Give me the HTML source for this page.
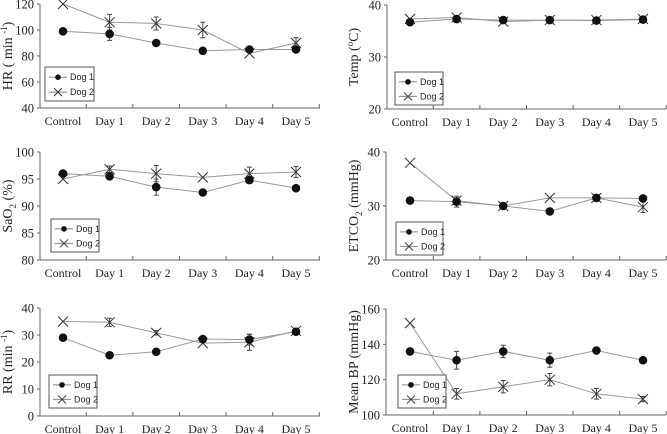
<!DOCTYPE html>
<html><head><meta charset="utf-8"><style>
html,body{margin:0;padding:0;background:#fff;}
svg{display:block;}
text{font-family:"Liberation Serif",serif;fill:#222;}
.lg{font-family:"Liberation Sans",sans-serif;font-size:9px;}
</style></head><body>
<svg id="chart" width="667" height="434" viewBox="0 0 667 434" xmlns="http://www.w3.org/2000/svg"></svg>
<script>
const categories = ["Control","Day 1","Day 2","Day 3","Day 4","Day 5"];
const hrDog1 = [99,97,90,84,85,85];
const hrDog2 = [120,106,105,100,82,90];
const hrErr1 = [0,5,0,0,0,0];
const hrErr2 = [0,6,5,6,0,4];
const hrTicks = [40,60,80,100,120];
const tempDog1 = [36.7,37.3,37.1,37.1,37.0,37.2];
const tempDog2 = [37.3,37.6,36.8,37.1,37.1,37.3];
const tempTicks = [20,30,40];
const saDog1 = [96,95.5,93.5,92.5,94.8,93.3];
const saDog2 = [95,96.8,96,95.3,96,96.3];
const saErr1 = [0,0,1.5,0,0.6,0];
const saErr2 = [0,0.6,1.5,0,1.2,1];
const saTicks = [80,85,90,95,100];
const etDog1 = [31,30.8,30,29,31.5,31.4];
const etDog2 = [38,31,30,31.5,31.5,29.8];
const etErr1 = [0,1,0,0,0.6,0];
const etErr2 = [0,0.5,0.4,0,0.5,1];
const etTicks = [20,30,40];
const rrDog1 = [29,22.5,23.8,28.5,28.3,31.2];
const rrDog2 = [35,34.7,30.8,27,27.3,31.5];
const rrErr1 = [0,0,0.8,0,2,0];
const rrErr2 = [0,1.5,0.8,0,3,1];
const rrTicks = [0,10,20,30,40];
const bpDog1 = [136,131,136,131,136.5,131];
const bpDog2 = [152,112,116,120,112,109];
const bpErr1 = [0,5,3.5,4,1.5,0];
const bpErr2 = [0,3,3.5,3.5,3,1.5];
const bpTicks = [100,120,140,160];

const NS="http://www.w3.org/2000/svg";
const svg=document.getElementById('chart');
function mk(tag,attrs,parent){const e=document.createElementNS(NS,tag);for(const k in attrs)e.setAttribute(k,attrs[k]);(parent||svg).appendChild(e);return e;}

function panel(cfg){
  const g=mk('g',{});
  
  
  const sx=i=>cfg.x0+i*(cfg.x5-cfg.x0)/5;
  const step=(cfg.x5-cfg.x0)/5;
  const sy=v=>cfg.yb+(v-cfg.min)/(cfg.max-cfg.min)*(cfg.yt-cfg.yb);
  const ax=mk('path',{d:`M${cfg.ax} ${cfg.yt} V${cfg.yb} H${cfg.right}`,stroke:'#666',fill:'none','stroke-width':1},g);
  
  
  cfg.ticks.forEach(t=>{
    mk('line',{x1:cfg.ax-3,x2:cfg.ax,y1:sy(t),y2:sy(t),stroke:'#666'},g);
    const tl=mk('text',{x:cfg.ax-6,y:sy(t)+4.5,'text-anchor':'end','font-size':12.5},g);
    tl.textContent=t;
    
    
  });
  for(let i=0;i<6;i++){
    const tx=sx(i)+step/2;
    mk('line',{x1:tx,x2:tx,y1:cfg.yb,y2:cfg.yb-4,stroke:'#666'},g);
    const cl=mk('text',{x:sx(i),y:cfg.yb+17,'text-anchor':'middle','font-size':12},g);
    cl.textContent=categories[i];
    
    
  }
  const yl=mk('text',{x:0,y:0,'text-anchor':'middle','font-size':14,transform:`translate(${cfg.lx},${(cfg.yt+cfg.yb)/2}) rotate(-90)`},g);
  yl.innerHTML=cfg.label;
  
  
  [[cfg.d2,cfg.e2,'x'],[cfg.d1,cfg.e1,'o']].forEach(([d,e,m])=>{
    const pl=mk('polyline',{points:d.map((v,i)=>sx(i)+','+sy(v)).join(' '),fill:'none',stroke:'#999','stroke-width':1},g);
    
    
    d.forEach((v,i)=>{
      const err=e?e[i]:0;
      if(err>0){
        const x=sx(i);
        mk('path',{d:`M${x} ${sy(v-err)} V${sy(v+err)} M${x-2.5} ${sy(v-err)} H${x+2.5} M${x-2.5} ${sy(v+err)} H${x+2.5}`,stroke:'#444',fill:'none'},g);
      }
      let mkEl;
      if(m==='o'){mkEl=mk('circle',{cx:sx(i),cy:sy(v),r:4.3,fill:'#111'},g);}
      else{const x=sx(i),y=sy(v);mkEl=mk('path',{d:`M${x-5} ${y-5} L${x+5} ${y+5} M${x-5} ${y+5} L${x+5} ${y-5}`,stroke:'#333','stroke-width':1},g);}
      
      
    });
  });
  const L=cfg.leg;
  const lg=mk('g',{},g);
  
  
  mk('rect',{x:L[0],y:L[1],width:L[2],height:L[3],fill:'#fff',stroke:'#555'},lg);
  const r1=L[1]+L[3]*0.3, r2=L[1]+L[3]*0.74, lx=L[0]+4;
  mk('line',{x1:lx,x2:lx+18,y1:r1,y2:r1,stroke:'#888'},lg);
  mk('circle',{cx:lx+9,cy:r1,r:2.8,fill:'#111'},lg);
  mk('line',{x1:lx,x2:lx+18,y1:r2,y2:r2,stroke:'#888'},lg);
  mk('path',{d:`M${lx+5} ${r2-4} L${lx+13} ${r2+4} M${lx+5} ${r2+4} L${lx+13} ${r2-4}`,stroke:'#333'},lg);
  const t1=mk('text',{x:lx+21,y:r1+3,class:'lg'},lg);t1.textContent='Dog 1';
  
  
  const t2=mk('text',{x:lx+21,y:r2+3,class:'lg'},lg);t2.textContent='Dog 2';
  
  
}

panel({name:'hr',ax:40,right:320,x0:63,x5:296,yt:4,yb:108,min:40,max:120,ticks:hrTicks,d1:hrDog1,d2:hrDog2,e1:hrErr1,e2:hrErr2,lx:12,label:'HR ( min <tspan font-size="9" dy="-5">-1</tspan><tspan dy="5">)</tspan>',leg:[45,67,49,34]});
panel({name:'temp',ax:387,right:666,x0:410,x5:643,yt:5,yb:109,min:20,max:40,ticks:tempTicks,d1:tempDog1,d2:tempDog2,e1:null,e2:null,lx:358,label:'Temp (<tspan font-size="9" dy="-5">o</tspan><tspan dy="5">C)</tspan>',leg:[395,72,48,33]});
panel({name:'sao2',ax:40,right:320,x0:63,x5:296,yt:152,yb:260,min:80,max:100,ticks:saTicks,d1:saDog1,d2:saDog2,e1:saErr1,e2:saErr2,lx:12,label:'SaO<tspan font-size="9" dy="4">2</tspan><tspan dy="-4"> (%)</tspan>',leg:[51,219,48,33]});
panel({name:'etco2',ax:386,right:666,x0:410,x5:643,yt:152,yb:260,min:20,max:40,ticks:etTicks,d1:etDog1,d2:etDog2,e1:etErr1,e2:etErr2,lx:358,label:'ETCO<tspan font-size="9" dy="4">2</tspan><tspan dy="-4"> (mmHg)</tspan>',leg:[396,222,47,33]});
panel({name:'rr',ax:40,right:320,x0:63,x5:296,yt:308,yb:416,min:0,max:40,ticks:rrTicks,d1:rrDog1,d2:rrDog2,e1:rrErr1,e2:rrErr2,lx:12,label:'RR (min <tspan font-size="9" dy="-5">-1</tspan><tspan dy="5">)</tspan>',leg:[49,375,48,33]});
panel({name:'mean-bp',ax:386,right:666,x0:410,x5:643,yt:309,yb:415,min:100,max:160,ticks:bpTicks,d1:bpDog1,d2:bpDog2,e1:bpErr1,e2:bpErr2,lx:358,label:'Mean BP (mmHg)',leg:[398,375,48,33]});
</script>
</body></html>
